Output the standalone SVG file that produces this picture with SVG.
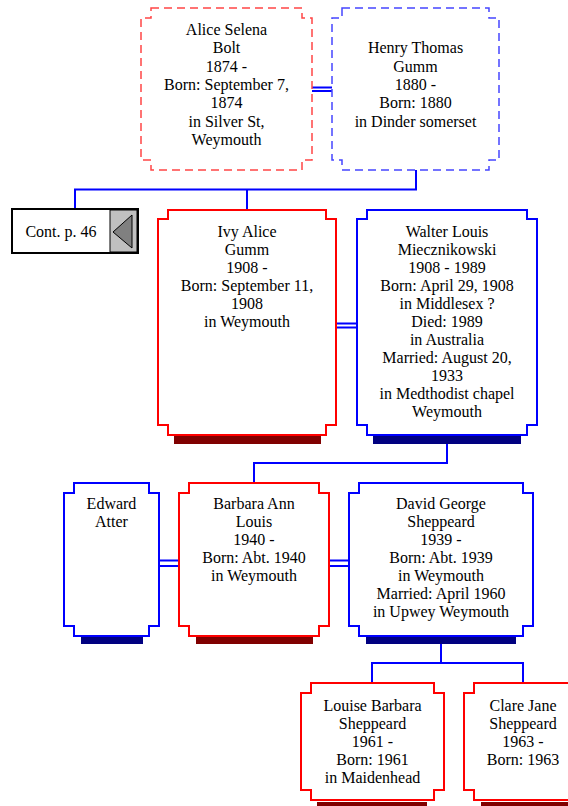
<svg xmlns="http://www.w3.org/2000/svg" width="568" height="806" viewBox="0 0 568 806">
<style>
text{font-family:"Liberation Serif","Times New Roman",serif;font-size:16px;fill:#000;text-anchor:middle}
.m{fill:#fff;stroke-width:2}
.f{stroke:#ff0000}
.ma{stroke:#0000ff}
.d{fill:#fff;stroke-width:1.5;stroke-dasharray:8,5}
.df{stroke:#ff4545}
.dm{stroke:#4545ff}
.sf{fill:#800000}
.sm{fill:#000080}
.c{fill:none;stroke:#0000ff;stroke-width:2}
</style>
<g id="connectors">
<path class="c" d="M312,87.5H332M312,91H332"/>
<path class="c" d="M416,170V189.5H75V209M247,189.5V210"/>
<path class="c" d="M336,323.5H357M336,327.5H357"/>
<path class="c" d="M447,444V463H254V483"/>
<path class="c" d="M159,560.5H179M159,566H179"/>
<path class="c" d="M329,560.5H349M329,566H349"/>
<path class="c" d="M441,644V663H372V683M441,663H523V683"/>
</g>
<g id="cont">
<rect x="12" y="209" width="126" height="44" fill="#fff" stroke="#000" stroke-width="2"/>
<rect x="110" y="210" width="27" height="42" fill="#c0c0c0" stroke="#000" stroke-width="1"/>
<path d="M113,232L132,215V248Z" fill="#808080" stroke="#000" stroke-width="1"/>
<text x="61" y="237">Cont. p. 46</text>
</g>
<g id="alice">
<path class="d df" d="M151,8H302V18H312V160H302V170H151V160H141V18H151Z"/>
<text x="226.5" y="35">Alice Selena</text>
<text x="226.5" y="53">Bolt</text>
<text x="226.5" y="72">1874 -</text>
<text x="226.5" y="90">Born: September 7,</text>
<text x="226.5" y="108">1874</text>
<text x="226.5" y="127">in Silver St,</text>
<text x="226.5" y="145">Weymouth</text>
</g>
<g id="henry">
<path class="d dm" d="M342,8H489V18H499V160H489V170H342V160H332V18H342Z"/>
<text x="415.5" y="53">Henry Thomas</text>
<text x="415.5" y="72">Gumm</text>
<text x="415.5" y="90">1880 -</text>
<text x="415.5" y="108">Born: 1880</text>
<text x="415.5" y="127">in Dinder somerset</text>
</g>
<g id="ivy">
<rect class="sf" x="174" y="436" width="147" height="8"/>
<path class="m f" d="M168,210H326V219H336V425H326V435H168V425H158V219H168Z"/>
<text x="247" y="237">Ivy Alice</text>
<text x="247" y="255">Gumm</text>
<text x="247" y="273">1908 -</text>
<text x="247" y="291">Born: September 11,</text>
<text x="247" y="309">1908</text>
<text x="247" y="327">in Weymouth</text>
</g>
<g id="walter">
<rect class="sm" x="373" y="436" width="148" height="8"/>
<path class="m ma" d="M367,210H527V219H537V425H527V435H367V425H357V219H367Z"/>
<text x="447" y="237">Walter Louis</text>
<text x="447" y="255">Miecznikowski</text>
<text x="447" y="273">1908 - 1989</text>
<text x="447" y="291">Born: April 29, 1908</text>
<text x="447" y="309">in Middlesex ?</text>
<text x="447" y="327">Died: 1989</text>
<text x="447" y="345">in Australia</text>
<text x="447" y="363">Married: August 20,</text>
<text x="447" y="381">1933</text>
<text x="447" y="399">in Medthodist chapel</text>
<text x="447" y="417">Weymouth</text>
</g>
<g id="edward">
<rect class="sm" x="81" y="636" width="62" height="8"/>
<path class="m ma" d="M74,483H149V493H159V626H149V636H74V626H64V493H74Z"/>
<text x="111.5" y="509">Edward</text>
<text x="111.5" y="527">Atter</text>
</g>
<g id="barbara">
<rect class="sf" x="196" y="636" width="117" height="8"/>
<path class="m f" d="M189,483H319V493H329V626H319V636H189V626H179V493H189Z"/>
<text x="254" y="509">Barbara Ann</text>
<text x="254" y="527">Louis</text>
<text x="254" y="545">1940 -</text>
<text x="254" y="563">Born: Abt. 1940</text>
<text x="254" y="581">in Weymouth</text>
</g>
<g id="david">
<rect class="sm" x="366" y="636" width="150" height="8"/>
<path class="m ma" d="M359,483H523V493H533V626H523V636H359V626H349V493H359Z"/>
<text x="441" y="509">David George</text>
<text x="441" y="527">Sheppeard</text>
<text x="441" y="545">1939 -</text>
<text x="441" y="563">Born: Abt. 1939</text>
<text x="441" y="581">in Weymouth</text>
<text x="441" y="599">Married: April 1960</text>
<text x="441" y="617">in Upwey Weymouth</text>
</g>
<g id="louise">
<rect class="sf" x="317" y="802" width="110" height="8"/>
<path class="m f" d="M311,683H434V693H444V790H434V800H311V790H301V693H311Z"/>
<text x="372.5" y="711">Louise Barbara</text>
<text x="372.5" y="729">Sheppeard</text>
<text x="372.5" y="747">1961 -</text>
<text x="372.5" y="765">Born: 1961</text>
<text x="372.5" y="783">in Maidenhead</text>
</g>
<g id="clare">
<rect class="sf" x="481" y="802" width="110" height="8"/>
<path class="m f" d="M474,683H572V693H582V790H572V800H474V790H464V693H474Z"/>
<text x="523" y="711">Clare Jane</text>
<text x="523" y="729">Sheppeard</text>
<text x="523" y="747">1963 -</text>
<text x="523" y="765">Born: 1963</text>
</g>
</svg>
